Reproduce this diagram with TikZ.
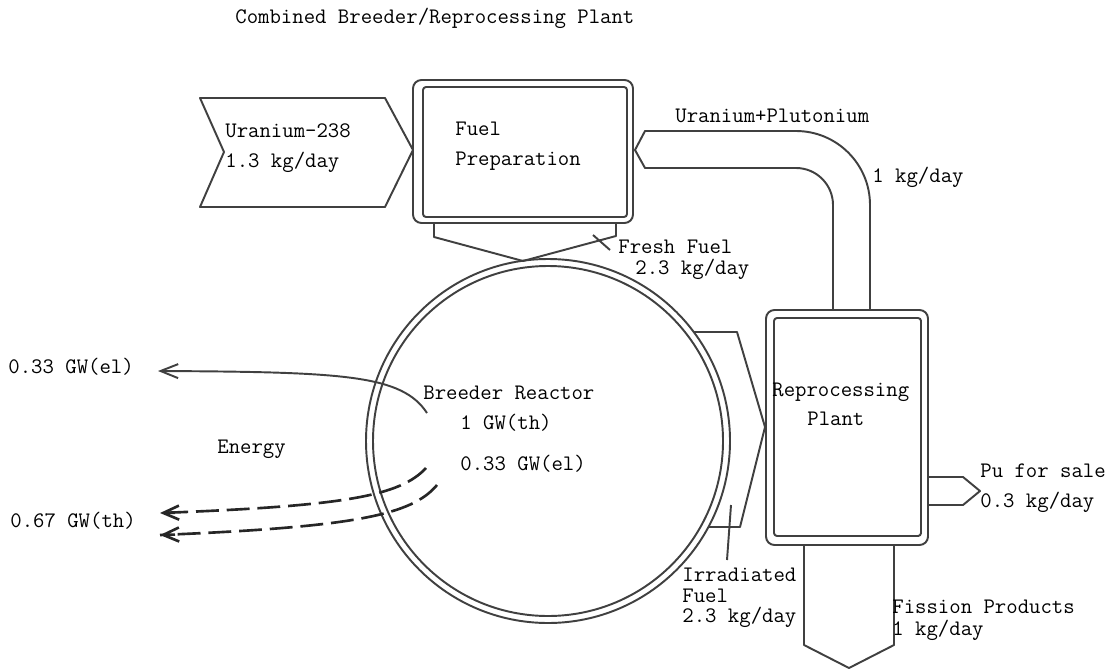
\documentclass[tikz,border=0pt]{standalone}
\usepackage{fontspec}
\usetikzlibrary{arrows.meta}
\begin{document}
\begin{tikzpicture}[x=0.02cm,y=-0.02cm,
  line join=round,
  ln/.style={draw=black!75,line width=1.1pt},
  lbl/.style={anchor=west,inner sep=0pt,text height=6.2pt,text depth=0pt,text=black,
    font=\ttfamily\fontsize{12.6}{14}\selectfont},
  barb/.style={-{Straight Barb[length=10pt,width=8pt,line width=1.1pt]}},
  dsh/.style={draw=black!85,line width=1.5pt,dash pattern=on 13pt off 4.5pt},
  dbarb/.style={-{Straight Barb[length=9pt,width=8pt,line width=1.5pt]}}]
\useasboundingbox (0,0) rectangle (1111,669);
\fill[white] (0,0) rectangle (1111,669);

% title
\node[lbl] (title) at (235,18) {Combined Breeder/Reprocessing Plant};

% ---- Fuel preparation box
\node[inner sep=0pt,minimum width=4.4cm,minimum height=2.86cm] (fuelprep) at (523,151.5) {};
\draw[ln,rounded corners=0.17cm] (413,80) rectangle (633,223);
\draw[ln,rounded corners=0.06cm] (423,87) rectangle (627,217);
\node[lbl] (fp1) at (455,130) {Fuel};
\node[lbl] (fp2) at (455,160) {Preparation};

% ---- Uranium-238 chevron
\coordinate (u238tip) at (413,150);
\draw[ln] (200,98) -- (385,98) -- (u238tip) -- (385,207) -- (200,207) -- (224,152) -- cycle;
\node[lbl] (u1) at (225,132) {Uranium-238};
\node[lbl] (u2) at (225,162) {1.3 kg/day};

% ---- Reactor
\node[inner sep=0pt,minimum size=7.28cm,circle] (reactor) at (548,441) {};
\draw[ln] (548,441) circle (182);
\draw[ln] (548,441) circle (175);
\node[lbl] (r1) at (423,394) {Breeder Reactor};
\node[lbl] (r2) at (460,424) {1 GW(th)};
\node[lbl] (r3) at (460,465) {0.33 GW(el)};

% ---- funnel fuel prep -> reactor
\coordinate (rtop) at (523,261);
\draw[ln] (434,223) -- (434,237) -- (rtop);
\draw[ln] (616,223) -- (616,236) -- (rtop);
\draw[ln] (593,235) -- (610,250);
\node[lbl] (ff1) at (618,248) {Fresh Fuel};
\node[lbl] (ff2) at (635,269) {2.3 kg/day};

% ---- Reprocessing plant
\node[inner sep=0pt,minimum width=3.24cm,minimum height=4.7cm] (reproc) at (847,427.5) {};
\draw[ln,rounded corners=0.17cm] (766,310) rectangle (928,545);
\draw[ln,rounded corners=0.06cm] (774,318) rectangle (921,536);
\node[lbl] (rp1) at (772,391) {Reprocessing};
\node[lbl] (rp2) at (807,420) {Plant};

% ---- Uranium+Plutonium pipe
\coordinate (uptip) at (635,150);
\draw[ln] (870,310) -- (870,205) .. controls (870,164.1) and (836.9,131) .. (796,131)
  -- (645,131) -- (uptip) -- (645,168) -- (796,168)
  .. controls (816.4,168) and (833,184.6) .. (833,205) -- (833,310);
\node[lbl] (up1) at (675,117) {Uranium+Plutonium};
\node[lbl] (up2) at (872,177) {1 kg/day};

% ---- Irradiated fuel chevron
\coordinate (irtip) at (765,427);
\draw[ln] (694,332) -- (737,332) -- (irtip) -- (740,527) -- (708,527);
\draw[ln] (731,505) -- (727,560);
\node[lbl] (ir1) at (682,576) {Irradiated};
\node[lbl] (ir2) at (682,597) {Fuel};
\node[lbl] (ir3) at (682,617) {2.3 kg/day};

% ---- Pu for sale
\draw[ln] (928,477) -- (963,477) -- (980,491) -- (963,505) -- (928,505);
\node[lbl] (pu1) at (980,472) {Pu for sale};
\node[lbl] (pu2) at (980,502) {0.3 kg/day};

% ---- Fission products
\draw[ln] (804,545) -- (804,645) -- (849,668) -- (894,645) -- (894,545);
\node[lbl] (fi1) at (892,608) {Fission Products};
\node[lbl] (fi2) at (892,630) {1 kg/day};

% ---- Energy outputs
\coordinate (elS) at (427,413);
\coordinate (elE) at (158,371);
\draw[ln,barb] (elS) .. controls (402,375) and (345,372) .. (elE);
\node[lbl] (el) at (8,368) {0.33 GW(el)};

\coordinate (th1S) at (426,468);
\coordinate (th1E) at (160,513);
\coordinate (th2S) at (437,485);
\coordinate (th2E) at (160,535);
\draw[dsh] (th1S) .. controls (400,496) and (345,506) .. (th1E);
\draw[dsh] (th2S) .. controls (412,515) and (355,527) .. (th2E);
\draw[draw=black!85,line width=1.5pt,dbarb] (175,512.7) -- (th1E);
\draw[draw=black!85,line width=1.5pt,dbarb] (175,534.6) -- (th2E);
\node[lbl] (th) at (10,522) {0.67 GW(th)};
\node[lbl] (energy) at (217,448) {Energy};
\end{tikzpicture}
\end{document}
